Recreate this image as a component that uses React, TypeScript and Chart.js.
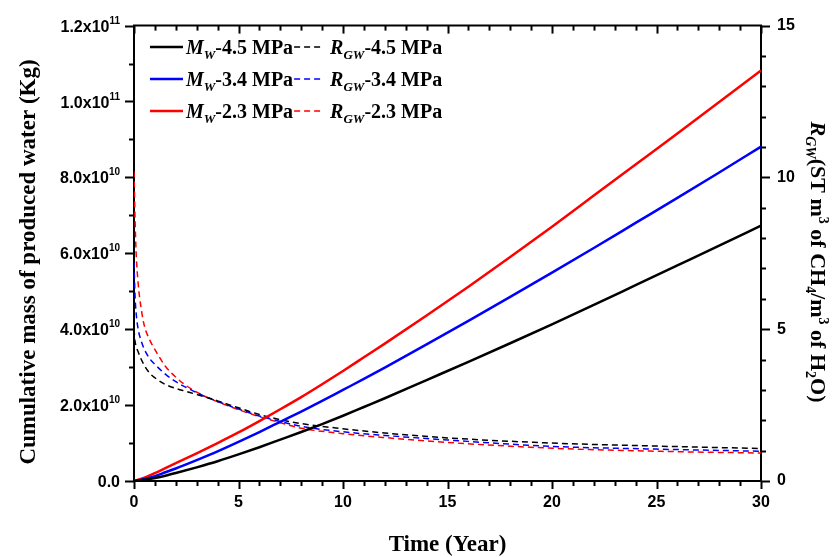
import React, { useEffect, useRef } from 'react';
import { Chart, registerables } from 'chart.js';

Chart.register(...registerables);

const SANS = "'Liberation Sans', Arial, sans-serif";
const SERIF = "'Liberation Serif', 'Times New Roman', serif";

const PRESSURES = ['4.5', '3.4', '2.3'];
const COLORS = ['#000000', '#0000ff', '#ff0000'];

// Time (years) for cumulative mass curves
const T_SOLID = [0, 0.5, 1, 1.5, 2, 3, 4, 5, 6, 7, 8, 9, 10, 11, 12, 14, 16, 18, 20, 22, 24, 26, 28, 30];
// Cumulative mass of produced water, in units of 1e10 kg
const MW_45 = [0, 0.03, 0.08, 0.14, 0.21, 0.36, 0.52, 0.7, 0.89, 1.09, 1.29, 1.5, 1.72, 1.95, 2.18, 2.66, 3.14, 3.63, 4.13, 4.64, 5.16, 5.68, 6.2, 6.73];
const MW_34 = [0, 0.05, 0.13, 0.23, 0.33, 0.55, 0.78, 1.03, 1.29, 1.56, 1.83, 2.11, 2.4, 2.69, 2.99, 3.6, 4.22, 4.85, 5.49, 6.14, 6.8, 7.46, 8.13, 8.81];
const MW_23 = [0, 0.09, 0.21, 0.34, 0.47, 0.73, 1.0, 1.28, 1.58, 1.89, 2.21, 2.55, 2.9, 3.26, 3.62, 4.36, 5.12, 5.9, 6.7, 7.52, 8.34, 9.16, 9.99, 10.82];

// Time (years) for gas-water ratio curves
const T_DASH = [0, 0.05, 0.1, 0.2, 0.35, 0.5, 0.75, 1, 1.5, 2, 2.5, 3, 3.5, 4, 5, 6, 7, 8, 10, 12, 15, 20, 25, 30];
const RGW_45 = [5.0, 4.6, 4.45, 4.25, 4.0, 3.8, 3.55, 3.4, 3.18, 3.05, 2.95, 2.85, 2.75, 2.64, 2.41, 2.19, 2.02, 1.89, 1.72, 1.58, 1.42, 1.25, 1.15, 1.07];
const RGW_34 = [7.2, 6.1, 5.55, 5.0, 4.6, 4.33, 4.03, 3.84, 3.52, 3.27, 3.08, 2.91, 2.75, 2.62, 2.37, 2.14, 1.96, 1.8, 1.62, 1.5, 1.35, 1.14, 1.05, 0.98];
const RGW_23 = [10.2, 8.64, 7.55, 6.5, 5.65, 5.1, 4.65, 4.33, 3.78, 3.42, 3.14, 2.93, 2.75, 2.61, 2.35, 2.12, 1.92, 1.74, 1.56, 1.43, 1.27, 1.08, 0.98, 0.92];

const MW_SERIES = [MW_45, MW_34, MW_23];
const RGW_SERIES = [RGW_45, RGW_34, RGW_23];

type Seg = { text: string; font: string; dy: number };

function drawRich(ctx: CanvasRenderingContext2D, x: number, y: number, segs: Seg[]) {
  let cx = x;
  for (const s of segs) {
    ctx.font = s.font;
    ctx.fillText(s.text, cx, y + s.dy);
    cx += ctx.measureText(s.text).width;
  }
  return cx;
}
function richWidth(ctx: CanvasRenderingContext2D, segs: Seg[]) {
  let w = 0;
  for (const s of segs) {
    ctx.font = s.font;
    w += ctx.measureText(s.text).width;
  }
  return w;
}

const decor = {
  id: 'decor',
  afterDraw(chart: any) {
    const { ctx, chartArea: ca, scales } = chart;
    const xs = scales.x, yl = scales.y, yr = scales.y1;
    ctx.save();
    ctx.strokeStyle = '#000';
    ctx.fillStyle = '#000';
    ctx.setLineDash([]);
    const line = (x1: number, y1: number, x2: number, y2: number) => {
      ctx.beginPath();
      ctx.moveTo(x1, y1);
      ctx.lineTo(x2, y2);
      ctx.stroke();
    };
    ctx.lineWidth = 2;
    line(ca.left - 1, ca.top, ca.right + 1, ca.top);
    for (let v = 0; v <= 30; v++) {
      const px = Math.round(xs.getPixelForValue(v)) + 0.5;
      const len = v % 5 === 0 ? 8 : 5;
      line(px, ca.bottom, px, ca.bottom + len);
      line(px, ca.top, px, ca.top + len);
    }
    for (let i = 0; i <= 12; i++) {
      const py = Math.round(yl.getPixelForValue(i * 1e10)) + 0.5;
      const len = i % 2 === 0 ? 9 : 5;
      line(ca.left - len, py, ca.left, py);
    }
    for (let v = 0; v <= 15; v++) {
      const py = Math.round(yr.getPixelForValue(v)) + 0.5;
      const len = v % 5 === 0 ? 9 : 5;
      line(ca.right, py, ca.right + len, py);
    }

    // left tick labels with superscript exponent
    const fMain = `bold 16px ${SANS}`;
    const fSup = `bold 10px ${SANS}`;
    ctx.textBaseline = 'alphabetic';
    ctx.textAlign = 'left';
    for (const t of yl.ticks) {
      const v = t.value;
      const py = yl.getPixelForValue(v);
      let segs: Seg[];
      if (v === 0) {
        segs = [{ text: '0.0', font: fMain, dy: 0 }];
      } else {
        const e = Math.floor(Math.log10(v) + 1e-9);
        const m = (v / Math.pow(10, e)).toFixed(1);
        segs = [
          { text: m + 'x10', font: fMain, dy: 0 },
          { text: String(e), font: fSup, dy: -8 },
        ];
      }
      const w = richWidth(ctx, segs);
      drawRich(ctx, ca.left - 14 - w, py + 6, segs);
    }

    // axis titles
    const fTitle = `bold 23px ${SERIF}`;
    ctx.font = fTitle;
    ctx.textAlign = 'center';
    ctx.fillText('Time (Year)', (ca.left + ca.right) / 2, 551);

    ctx.save();
    ctx.translate(28, 262);
    ctx.rotate(-Math.PI / 2);
    ctx.font = fTitle;
    ctx.textAlign = 'center';
    ctx.fillText('Cumulative mass of produced water (Kg)', 0, 7);
    ctx.restore();

    ctx.save();
    ctx.translate(818, 262);
    ctx.rotate(Math.PI / 2);
    ctx.textAlign = 'left';
    const fR = `bold 22px ${SERIF}`;
    const fRi = `italic bold 22px ${SERIF}`;
    const fRs = `italic bold 14px ${SERIF}`;
    const fRn = `bold 14px ${SERIF}`;
    const rsegs: Seg[] = [
      { text: 'R', font: fRi, dy: 0 },
      { text: 'GW', font: fRs, dy: 5 },
      { text: '(ST m', font: fR, dy: 0 },
      { text: '3', font: fRn, dy: -8 },
      { text: ' of CH', font: fR, dy: 0 },
      { text: '4', font: fRn, dy: 5 },
      { text: '/m', font: fR, dy: 0 },
      { text: '3', font: fRn, dy: -8 },
      { text: ' of H', font: fR, dy: 0 },
      { text: '2', font: fRn, dy: 5 },
      { text: 'O)', font: fR, dy: 0 },
    ];
    const rw = richWidth(ctx, rsegs);
    drawRich(ctx, -rw / 2, 7, rsegs);
    ctx.restore();

    // legend
    const fL = `bold 20px ${SERIF}`;
    const fLi = `italic bold 20px ${SERIF}`;
    const fLs = `italic bold 13px ${SERIF}`;
    ctx.textAlign = 'left';
    const baselines = [54, 86, 118];
    PRESSURES.forEach((p, i) => {
      const by = baselines[i];
      const ly = by - 7;
      ctx.strokeStyle = COLORS[i];
      ctx.lineWidth = 2.5;
      ctx.setLineDash([]);
      line(150, ly, 183, ly);
      ctx.fillStyle = '#000';
      const cx = drawRich(ctx, 186, by, [
        { text: 'M', font: fLi, dy: 0 },
        { text: 'W', font: fLs, dy: 5 },
        { text: `-${p} MPa`, font: fL, dy: 0 },
      ]);
      ctx.strokeStyle = COLORS[i];
      ctx.lineWidth = 1.5;
      ctx.setLineDash([6, 4]);
      line(cx + 1, ly, cx + 31, ly);
      ctx.setLineDash([]);
      drawRich(ctx, cx + 37, by, [
        { text: 'R', font: fLi, dy: 0 },
        { text: 'GW', font: fLs, dy: 5 },
        { text: `-${p} MPa`, font: fL, dy: 0 },
      ]);
    });
    ctx.restore();
  },
};

export default function App() {
  const ref = useRef<HTMLCanvasElement | null>(null);
  useEffect(() => {
    document.body.style.margin = '0';
    const canvas = ref.current;
    if (!canvas) return;
    const datasets: any[] = [];
    MW_SERIES.forEach((arr, i) => {
      datasets.push({
        label: `MW-${PRESSURES[i]} MPa`,
        data: arr.map((v, k) => ({ x: T_SOLID[k], y: v * 1e10 })),
        borderColor: COLORS[i],
        borderWidth: 2.5,
        pointRadius: 0,
        fill: false,
        cubicInterpolationMode: 'monotone',
        yAxisID: 'y',
      });
    });
    RGW_SERIES.forEach((arr, i) => {
      datasets.push({
        label: `RGW-${PRESSURES[i]} MPa`,
        data: arr.map((v, k) => ({ x: T_DASH[k], y: v })),
        borderColor: COLORS[i],
        borderWidth: 1.5,
        borderDash: [6, 4],
        pointRadius: 0,
        fill: false,
        cubicInterpolationMode: 'monotone',
        yAxisID: 'y1',
      });
    });
    const tickFont = { family: SANS, weight: 'bold' as const, size: 16 };
    const chart = new Chart(canvas, {
      type: 'line',
      data: { datasets },
      options: {
        responsive: false,
        animation: false,
        devicePixelRatio: 1,
        layout: { padding: { top: 22, left: 0, right: 0, bottom: 0 } },
        plugins: { legend: { display: false }, tooltip: { enabled: false } },
        scales: {
          x: {
            type: 'linear',
            position: 'bottom',
            min: 0,
            max: 30,
            ticks: { stepSize: 5, font: tickFont, color: '#000', padding: 12, maxRotation: 0 },
            grid: { display: false, drawTicks: false },
            border: { display: true, color: '#000', width: 2 },
            afterFit: (s: any) => { s.height = 76; },
          },
          y: {
            type: 'linear',
            position: 'left',
            min: 0,
            max: 1.2e11,
            ticks: { stepSize: 2e10, display: false },
            grid: { display: false, drawTicks: false },
            border: { display: true, color: '#000', width: 2 },
            afterFit: (s: any) => { s.width = 134; },
          },
          y1: {
            type: 'linear',
            position: 'right',
            min: 0,
            max: 15,
            ticks: { stepSize: 5, font: tickFont, color: '#000', padding: 16 },
            grid: { display: false, drawTicks: false },
            border: { display: true, color: '#000', width: 2 },
            afterFit: (s: any) => { s.width = 75; },
          },
        },
      },
      plugins: [decor],
    });
    return () => chart.destroy();
  }, []);
  return (
    <div style={{ width: 836, height: 557 }}>
      <canvas ref={ref} width={836} height={557} style={{ display: 'block' }} />
    </div>
  );
}
